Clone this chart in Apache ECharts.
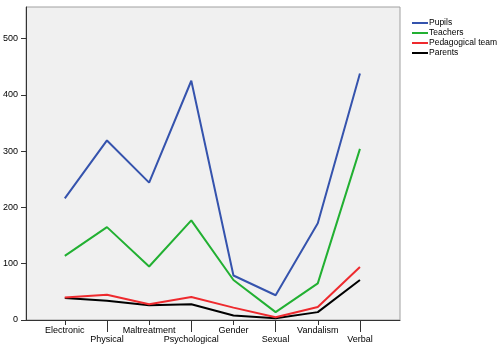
<!DOCTYPE html>
<html><head><meta charset="utf-8">
<script src="https://cdn.jsdelivr.net/npm/echarts@6/dist/echarts.min.js"></script>
<style>html,body{margin:0;padding:0;background:#fff;}#c{width:501px;height:355px;}</style>
</head><body><div id="c"></div>
<script>
var categories = ['Electronic','Physical','Maltreatment','Psychological','Gender','Sexual','Vandalism','Verbal'];
var pupils = [216, 319, 244, 425, 79, 44, 172, 438];
var teachers = [114, 165, 95, 177, 71, 14, 65, 304];
var pedagogical = [40, 45, 28, 41, 22, 5, 23, 94];
var parents = [39, 34, 26, 28, 8, 3, 14, 71];
var yTicks = [0, 100, 200, 300, 400, 500];
var seriesNames = ['Pupils','Teachers','Pedagogical team','Parents'];
var seriesColors = ['#3553ad','#22b032','#ee2a2e','#000000'];

var evenIdx = categories.map(function(c,i){return i;}).filter(function(i){return i%2===0;});
var oddIdx = categories.map(function(c,i){return i;}).filter(function(i){return i%2===1;});
function pts(arr){return arr.map(function(v,i){return [i,v];});}
var font = 'Liberation Sans, Arial, sans-serif';
var chart = echarts.init(document.getElementById('c'), null, {renderer:'canvas'});
var xMin = -0.92, xMax = 7.95;
var allData = [pupils, teachers, pedagogical, parents];
chart.setOption({
  animation: false,
  backgroundColor: '#ffffff',
  grid: {left: 25, top: 7, right: 101, bottom: 35, show: true, backgroundColor: '#f0f0f0', borderColor: '#a0a0a0', borderWidth: 1},
  legend: {
    orient: 'vertical', left: 412, top: 18, itemGap: 0, itemWidth: 16, itemHeight: 2, padding: 0,
    icon: 'rect',
    textStyle: {fontFamily: font, fontSize: 8.5, color: '#000', lineHeight: 10, padding: [0,0,0,-4]},
    data: seriesNames
  },
  xAxis: [{
    type: 'value', min: xMin, max: xMax,
    axisLine: {show: true, onZero: false, lineStyle: {color: '#333', width: 1}},
    axisTick: {show: true, length: 5, customValues: evenIdx, lineStyle: {color: '#333'}},
    axisLabel: {customValues: evenIdx, margin: 6, fontFamily: font, fontSize: 9, color: '#000',
      formatter: function(v){return categories[v];}},
    splitLine: {show: false}
  },{
    type: 'value', min: xMin, max: xMax, position: 'bottom',
    axisLine: {show: false, onZero: false},
    axisTick: {show: true, length: 12, customValues: oddIdx, lineStyle: {color: '#333'}},
    axisLabel: {customValues: oddIdx, margin: 15, fontFamily: font, fontSize: 9, color: '#000',
      formatter: function(v){return categories[v];}},
    splitLine: {show: false}
  }],
  yAxis: {
    type: 'value', min: 0, max: 556,
    axisLine: {show: true, onZero: false, lineStyle: {color: '#333', width: 1}},
    axisTick: {show: true, length: 5, customValues: yTicks, lineStyle: {color: '#333'}},
    axisLabel: {customValues: yTicks, margin: 8, fontFamily: font, fontSize: 9, color: '#000'},
    splitLine: {show: false}
  },
  series: seriesNames.map(function(n, k){
    return {name: n, type: 'line', data: pts(allData[k]), symbol: 'none', color: seriesColors[k],
      lineStyle: {width: 2, color: seriesColors[k]}, z: 10 - k};
  })
});
</script></body></html>
